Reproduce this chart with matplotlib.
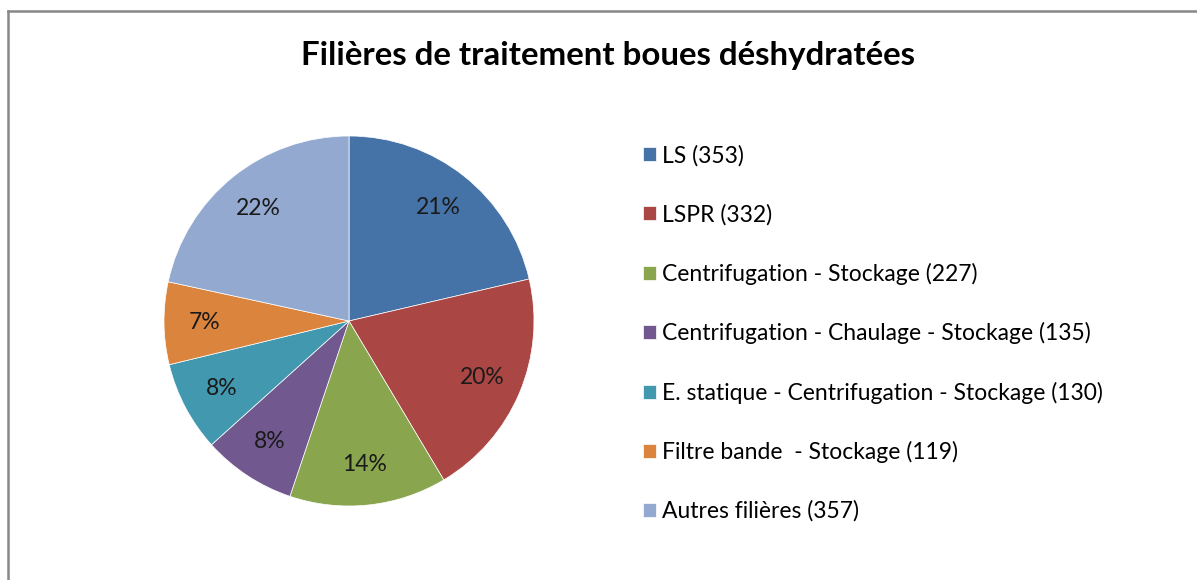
import matplotlib.pyplot as plt
from matplotlib.lines import Line2D

plt.rcParams['font.family'] = ['Lato', 'DejaVu Sans']

labels = ["LS (353)", "LSPR (332)", "Centrifugation - Stockage (227)",
          "Centrifugation - Chaulage - Stockage (135)",
          "E. statique - Centrifugation - Stockage (130)",
          "Filtre bande  - Stockage (119)", "Autres filières (357)"]
values = [353, 332, 227, 135, 130, 119, 357]
colors = ["#4572A7", "#AA4643", "#89A54E", "#71588F", "#4198AF", "#DB843D", "#93A9CF"]

W, H = 1197, 580
fig = plt.figure(figsize=(W / 100, H / 100), dpi=100)

# pie centre ~ (349, 321) px, radius ~185 px
cx, cy, r = 349, 321, 185
ax = fig.add_axes([(cx - r) / W, (H - cy - r) / H, 2 * r / W, 2 * r / H])
wedges, texts, autotexts = ax.pie(values, colors=colors, startangle=90, counterclock=False,
                                  autopct=lambda p: f"{p:.0f}%", pctdistance=0.78,
                                  wedgeprops=dict(linewidth=0.5, edgecolor="white"),
                                  textprops=dict(fontsize=16.5, color="#1a1a1a"))
ax.set_xlim(-1, 1)
ax.set_ylim(-1, 1)
ax.set_aspect("equal")
ax.axis("off")

fig.text(608 / W, 1 - 56 / H, "Filières de traitement boues déshydratées",
         ha="center", va="center", fontsize=23.8, fontweight="bold")

fig.legend(wedges, labels, loc="upper left", bbox_to_anchor=(643 / W, 1 - 145 / H),
           frameon=False, fontsize=16.5, borderpad=0, borderaxespad=0,
           handlelength=0.57, handleheight=0.57, handletextpad=0.28, labelspacing=1.63)

# chart border (left and top edges visible)
fig.add_artist(Line2D([8 / W, 8 / W], [0, 1 - 11 / H], color="#888888", lw=1.8))
fig.add_artist(Line2D([8 / W, 1], [1 - 11 / H, 1 - 11 / H], color="#888888", lw=1.8))

plt.savefig("out.png", dpi=100)
